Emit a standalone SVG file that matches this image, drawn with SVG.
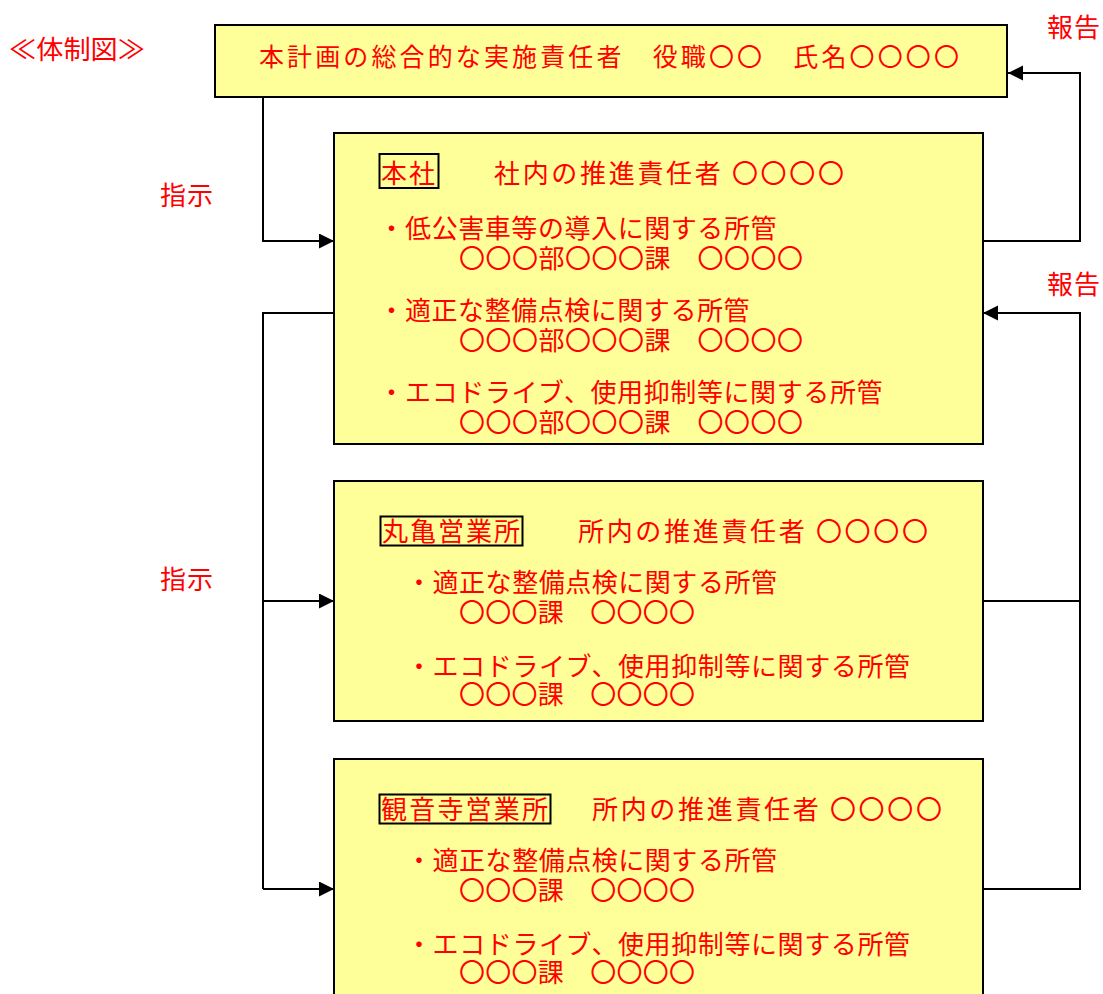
<svg xmlns="http://www.w3.org/2000/svg" width="1103" height="994" viewBox="0 0 1103 994">
<style>
.box{fill:#FFFF99;stroke:#000;stroke-width:2}
.tag{fill:none;stroke:#000;stroke-width:2}
.t{font-family:"Noto Sans CJK JP","Noto Sans",sans-serif;font-size:26px;fill:#FF0000}
.h{font-size:25px}
.c{fill:none;stroke:#000;stroke-width:2}
</style>
<defs>
<marker id="ah" markerUnits="userSpaceOnUse" markerWidth="16" markerHeight="16" refX="15" refY="7.5" orient="auto">
<path d="M0,0 L15,7.5 L0,15 z" fill="#000"/>
</marker>
</defs>
<rect width="1103" height="994" fill="#fff"/>
<g id="title"><text class="t" x="9" y="59" textLength="136" lengthAdjust="spacingAndGlyphs">≪体制図≫</text></g>
<g id="labels">
<text class="t" x="1047" y="37" textLength="53" lengthAdjust="spacing">報告</text>
<text class="t" x="1047" y="294" textLength="53" lengthAdjust="spacing">報告</text>
<text class="t" x="160" y="205" textLength="53" lengthAdjust="spacing">指示</text>
<text class="t" x="160" y="589" textLength="53" lengthAdjust="spacing">指示</text>
</g>
<g id="connectors">
<path class="c" d="M263,97 V241 H334" marker-end="url(#ah)"/>
<path class="c" d="M983,241 H1080 V73 H1008" marker-end="url(#ah)"/>
<path class="c" d="M334,313 H263 V889"/>
<path class="c" d="M263,601 H334" marker-end="url(#ah)"/>
<path class="c" d="M263,889 H334" marker-end="url(#ah)"/>
<path class="c" d="M983,889 H1080 V313 H983" marker-end="url(#ah)"/>
<path class="c" d="M983,601 H1080"/>
</g>
<g id="top">
<rect class="box" x="215" y="25" width="792" height="72"/>
<text class="t h" x="259" y="66" textLength="700" lengthAdjust="spacing">本計画の総合的な実施責任者　役職〇〇　氏名〇〇〇〇</text>
</g>
<g id="honsha">
<rect class="box" x="334" y="133" width="649" height="311"/>
<rect class="tag" x="379.5" y="154" width="59" height="34"/>
<text class="t" x="381" y="183" textLength="54" lengthAdjust="spacing">本社</text>
<text class="t" x="494" y="183" textLength="350" lengthAdjust="spacing">社内の推進責任者 〇〇〇〇</text>
<text class="t" x="378.5" y="238" textLength="398" lengthAdjust="spacing">・低公害車等の導入に関する所管</text>
<text class="t" x="459" y="268" textLength="344" lengthAdjust="spacing">〇〇〇部〇〇〇課　〇〇〇〇</text>
<text class="t" x="378.5" y="320" textLength="371" lengthAdjust="spacing">・適正な整備点検に関する所管</text>
<text class="t" x="459" y="350" textLength="344" lengthAdjust="spacing">〇〇〇部〇〇〇課　〇〇〇〇</text>
<text class="t" x="378.5" y="402" textLength="504" lengthAdjust="spacing">・エコドライブ、使用抑制等に関する所管</text>
<text class="t" x="459" y="432" textLength="344" lengthAdjust="spacing">〇〇〇部〇〇〇課　〇〇〇〇</text>
</g>
<g id="marugame">
<rect class="box" x="334" y="481" width="649" height="240"/>
<rect class="tag" x="380.5" y="516.5" width="142" height="29"/>
<text class="t" x="382" y="541" textLength="138" lengthAdjust="spacing">丸亀営業所</text>
<text class="t" x="578" y="541" textLength="350" lengthAdjust="spacing">所内の推進責任者 〇〇〇〇</text>
<text class="t" x="406" y="592" textLength="371" lengthAdjust="spacing">・適正な整備点検に関する所管</text>
<text class="t" x="459" y="622" textLength="236" lengthAdjust="spacing">〇〇〇課　〇〇〇〇</text>
<text class="t" x="406" y="676" textLength="504" lengthAdjust="spacing">・エコドライブ、使用抑制等に関する所管</text>
<text class="t" x="459" y="704" textLength="236" lengthAdjust="spacing">〇〇〇課　〇〇〇〇</text>
</g>
<g id="kanonji">
<rect class="box" x="334" y="759" width="649" height="245"/>
<rect class="tag" x="379.5" y="794.5" width="171" height="29"/>
<text class="t" x="381" y="819" textLength="167" lengthAdjust="spacing">観音寺営業所</text>
<text class="t" x="592" y="819" textLength="350" lengthAdjust="spacing">所内の推進責任者 〇〇〇〇</text>
<text class="t" x="406" y="870" textLength="371" lengthAdjust="spacing">・適正な整備点検に関する所管</text>
<text class="t" x="459" y="900" textLength="236" lengthAdjust="spacing">〇〇〇課　〇〇〇〇</text>
<text class="t" x="406" y="954" textLength="504" lengthAdjust="spacing">・エコドライブ、使用抑制等に関する所管</text>
<text class="t" x="459" y="982" textLength="236" lengthAdjust="spacing">〇〇〇課　〇〇〇〇</text>
</g>
</svg>
